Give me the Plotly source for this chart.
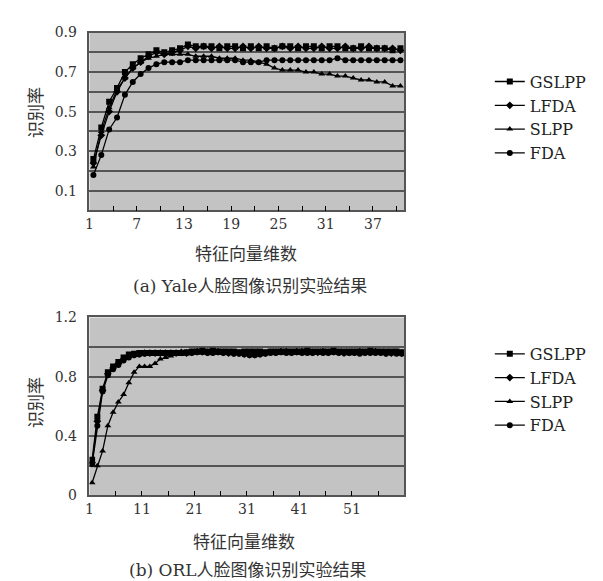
import plotly.graph_objects as go

# ---------------- data ----------------
dims_a = list(range(1, 41))
gslpp_a = [0.26, 0.42, 0.55, 0.62, 0.70, 0.74, 0.77, 0.79, 0.81, 0.80,
           0.81, 0.82, 0.84, 0.83, 0.83, 0.83, 0.82, 0.83, 0.83, 0.82,
           0.83, 0.82, 0.83, 0.82, 0.83, 0.83, 0.82, 0.83, 0.83, 0.82,
           0.83, 0.83, 0.82, 0.82, 0.83, 0.82, 0.82, 0.82, 0.81, 0.82]
lfda_a = [0.24, 0.38, 0.50, 0.60, 0.67, 0.72, 0.75, 0.78, 0.80, 0.79,
          0.80, 0.81, 0.83, 0.82, 0.83, 0.82, 0.83, 0.82, 0.82, 0.83,
          0.82, 0.83, 0.82, 0.82, 0.83, 0.82, 0.83, 0.82, 0.82, 0.83,
          0.82, 0.82, 0.83, 0.82, 0.82, 0.83, 0.82, 0.82, 0.82, 0.81]
slpp_a = [0.22, 0.40, 0.52, 0.61, 0.67, 0.72, 0.75, 0.77, 0.78, 0.79,
          0.79, 0.79, 0.79, 0.78, 0.78, 0.78, 0.77, 0.77, 0.77, 0.76,
          0.76, 0.75, 0.74, 0.72, 0.71, 0.71, 0.71, 0.70, 0.70, 0.69,
          0.69, 0.68, 0.68, 0.67, 0.66, 0.66, 0.65, 0.65, 0.63, 0.63]
fda_a = [0.18, 0.28, 0.41, 0.47, 0.585, 0.65, 0.69, 0.72, 0.74, 0.75,
         0.75, 0.75, 0.76, 0.76, 0.76, 0.76, 0.76, 0.76, 0.76, 0.75,
         0.75, 0.75, 0.76, 0.76, 0.76, 0.76, 0.76, 0.76, 0.76, 0.76,
         0.76, 0.77, 0.76, 0.76, 0.76, 0.76, 0.76, 0.76, 0.76, 0.76]

dims_b = list(range(1, 61))
gslpp_b = [0.24, 0.53, 0.72, 0.83, 0.87, 0.90, 0.93, 0.95, 0.955, 0.96,
           0.96, 0.96, 0.96, 0.96, 0.96, 0.96, 0.96, 0.96, 0.965, 0.97,
           0.97, 0.975, 0.97, 0.975, 0.97, 0.97, 0.97, 0.97, 0.965, 0.97,
           0.97, 0.97, 0.97, 0.965, 0.97, 0.97, 0.97, 0.97, 0.97, 0.97,
           0.97, 0.975, 0.97, 0.97, 0.97, 0.97, 0.975, 0.97, 0.97, 0.97,
           0.97, 0.97, 0.97, 0.975, 0.97, 0.97, 0.97, 0.97, 0.97, 0.965]
lfda_b = [0.22, 0.50, 0.71, 0.82, 0.86, 0.89, 0.92, 0.94, 0.95, 0.955,
          0.96, 0.96, 0.96, 0.96, 0.96, 0.96, 0.96, 0.965, 0.96, 0.965,
          0.97, 0.97, 0.965, 0.97, 0.97, 0.965, 0.96, 0.96, 0.96, 0.955,
          0.95, 0.95, 0.955, 0.96, 0.965, 0.965, 0.97, 0.97, 0.965, 0.97,
          0.97, 0.97, 0.965, 0.965, 0.97, 0.965, 0.97, 0.965, 0.96, 0.965,
          0.965, 0.97, 0.965, 0.965, 0.97, 0.965, 0.96, 0.96, 0.965, 0.96]
slpp_b = [0.085, 0.20, 0.30, 0.47, 0.56, 0.63, 0.68, 0.76, 0.83, 0.87,
          0.87, 0.87, 0.89, 0.92, 0.93, 0.94, 0.95, 0.95, 0.955, 0.96,
          0.96, 0.965, 0.96, 0.96, 0.96, 0.96, 0.96, 0.96, 0.96, 0.955,
          0.95, 0.945, 0.95, 0.955, 0.96, 0.96, 0.96, 0.965, 0.96, 0.96,
          0.96, 0.965, 0.96, 0.96, 0.96, 0.965, 0.96, 0.96, 0.96, 0.955,
          0.96, 0.96, 0.96, 0.96, 0.965, 0.96, 0.96, 0.955, 0.96, 0.955]
fda_b = [0.21, 0.47, 0.70, 0.81, 0.85, 0.88, 0.91, 0.93, 0.945, 0.95,
         0.955, 0.96, 0.96, 0.96, 0.955, 0.96, 0.96, 0.96, 0.96, 0.96,
         0.965, 0.965, 0.96, 0.96, 0.965, 0.96, 0.96, 0.955, 0.955, 0.95,
         0.945, 0.945, 0.95, 0.955, 0.96, 0.96, 0.965, 0.96, 0.96, 0.965,
         0.96, 0.96, 0.96, 0.965, 0.96, 0.96, 0.965, 0.96, 0.96, 0.96,
         0.96, 0.955, 0.96, 0.96, 0.96, 0.96, 0.955, 0.96, 0.955, 0.955]

names = ["GSLPP", "LFDA", "SLPP", "FDA"]
symbols = ["square", "diamond", "triangle-up", "circle"]

xlabels_a = ["1", "7", "13", "19", "25", "31", "37"]
xlabels_b = ["1", "11", "21", "31", "41", "51"]
ylabels_a = ["0.1", "0.3", "0.5", "0.7", "0.9"]
ylabels_b = ["0", "0.4", "0.8", "1.2"]

ylabel = "识别率"
xlabel = "特征向量维数"
caption_a = "(a) Yale人脸图像识别实验结果"
caption_b = "(b) ORL人脸图像识别实验结果"

# ---------------- figure ----------------
W, H = 603, 581
SERIF = "DejaVu Serif, Noto Sans CJK SC"
fig = go.Figure()

series_a = [gslpp_a, lfda_a, slpp_a, fda_a]
series_b = [gslpp_b, lfda_b, slpp_b, fda_b]
for n, s, ys in zip(names, symbols, series_a):
    fig.add_trace(go.Scatter(x=dims_a, y=ys, name=n, mode="lines+markers",
                             line=dict(color="black", width=1.3),
                             marker=dict(symbol=s, size=6, color="black"),
                             xaxis="x", yaxis="y", legend="legend"))
for n, s, ys in zip(names, symbols, series_b):
    fig.add_trace(go.Scatter(x=dims_b, y=ys, name=n, mode="lines+markers",
                             line=dict(color="black", width=1.3),
                             marker=dict(symbol=s, size=6, color="black"),
                             xaxis="x2", yaxis="y2", legend="legend2"))

def px_x(p):
    return p / W

def px_y(p):
    return 1 - p / H

# tick positions (boundaries of categories)
tv_a = [0.5 + 3 * k for k in range(14)]
tt_a = [xlabels_a[k // 2] if k % 2 == 0 else "" for k in range(14)]
tv_b = [0.5 + 5 * k for k in range(13)]
tt_b = [xlabels_b[k // 2] if (k % 2 == 0 and k // 2 < len(xlabels_b)) else "" for k in range(13)]

ytv_a = [round(0.1 * k, 2) for k in range(10)]
ytt_a = [ylabels_a[(k - 1) // 2] if k % 2 == 1 else "" for k in range(10)]
ytv_b = [round(0.2 * k, 2) for k in range(7)]
ytt_b = [ylabels_b[k // 2] if k % 2 == 0 else "" for k in range(7)]

xcommon = dict(showgrid=False, zeroline=False, ticks="inside", ticklen=5,
               tickcolor="black", showline=True, linecolor="#555", linewidth=1.5,
               mirror=True, tickfont=dict(family=SERIF, size=14, color="#333"),
               ticklabelstandoff=0)
ycommon = dict(showgrid=True, gridcolor="#555", gridwidth=1.5, zeroline=False,
               ticks="", showline=True, linecolor="#555", linewidth=1.5, mirror=True,
               tickfont=dict(family=SERIF, size=14, color="#333"), ticklabelstandoff=8)

fig.update_layout(
    width=W, height=H, margin=dict(l=0, r=0, t=0, b=0),
    paper_bgcolor="white", plot_bgcolor="#c3c3c3",
    xaxis=dict(domain=[px_x(78), px_x(395)], range=[0.5, 40.5], tickvals=tv_a,
               ticktext=tt_a, anchor="y", **xcommon),
    yaxis=dict(domain=[px_y(200), px_y(17)], range=[0, 0.9], tickvals=ytv_a,
               ticktext=ytt_a, anchor="x", **ycommon),
    xaxis2=dict(domain=[px_x(78), px_x(395)], range=[0.5, 60.5], tickvals=tv_b,
                ticktext=tt_b, anchor="y2", **xcommon),
    yaxis2=dict(domain=[px_y(493), px_y(310)], range=[0, 1.2], tickvals=ytv_b,
                ticktext=ytt_b, anchor="x2", **ycommon),
    legend=dict(x=px_x(481), y=px_y(50), xanchor="left", yanchor="top",
                font=dict(family=SERIF, size=16, color="#222"),
                bgcolor="rgba(0,0,0,0)", tracegroupgap=0),
    legend2=dict(x=px_x(481), y=px_y(330), xanchor="left", yanchor="top",
                 font=dict(family=SERIF, size=16, color="#222"),
                 bgcolor="rgba(0,0,0,0)", tracegroupgap=0),
    showlegend=True,
)

ann_font = dict(family=SERIF, size=17, color="#333")
annotations = [
    dict(text=ylabel, x=px_x(24), y=px_y(99), textangle=-90),
    dict(text=xlabel, x=px_x(236), y=px_y(245)),
    dict(text=caption_a, x=px_x(240), y=px_y(278)),
    dict(text=ylabel, x=px_x(24), y=px_y(397), textangle=-90),
    dict(text=xlabel, x=px_x(234), y=px_y(541)),
    dict(text=caption_b, x=px_x(238), y=px_y(570)),
]
for a in annotations:
    fig.add_annotation(xref="paper", yref="paper", showarrow=False,
                       xanchor="center", yanchor="middle", font=ann_font, **a)

fig.write_html("out.html")
